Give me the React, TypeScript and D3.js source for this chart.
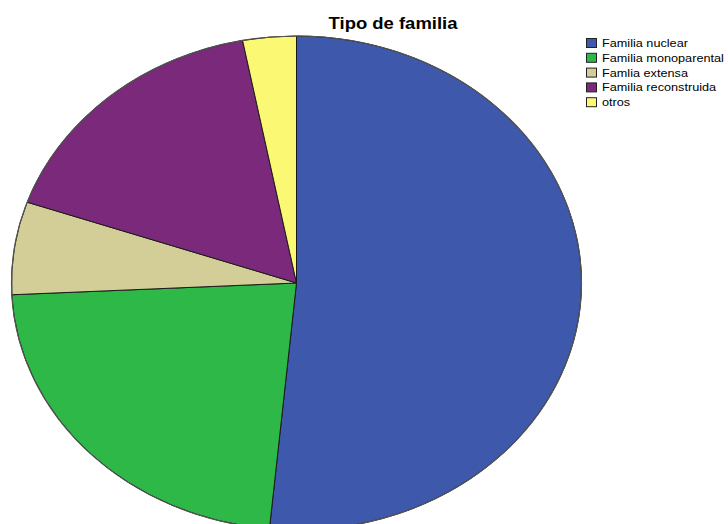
import React from "react";
import * as d3 from "d3";

const categories = ["Familia nuclear", "Familia monoparental", "Famlia extensa", "Familia reconstruida", "otros"];
const counts = [34, 15, 4, 11, 2];
const colors = ["#3E58AC", "#2EB848", "#D3CE97", "#7B2A7B", "#FBF873"];
const title = "Tipo de familia";

export default function App() {
  const W = 728, H = 524;
  const cx = 296.5, cy = 283, rx = 285, ry = 247;
  const sx = rx / ry;
  const pie = d3.pie<number>().sort(null).startAngle(0).endAngle(2 * Math.PI);
  const arcs = pie(counts);
  const arc = d3.arc<d3.PieArcDatum<number>>().innerRadius(0).outerRadius(ry);
  const stretch = 1.154;
  return (
    <svg width={W} height={H} style={{ position: "absolute", left: 0, top: 0, background: "#fff" }}>
      <g transform={`translate(${cx},${cy}) scale(${sx},1)`}>
        {arcs.map((a, i) => (
          <path key={i} d={arc(a) || ""} fill={colors[i]} stroke="#1a1a1a" strokeWidth={1} vectorEffect="non-scaling-stroke" />
        ))}
        <ellipse cx={0} cy={0} rx={ry} ry={ry} fill="none" stroke="#555" strokeWidth={1.2} vectorEffect="non-scaling-stroke" />
      </g>
      <text transform={`translate(393,29) scale(${stretch},1)`} textAnchor="middle" fontFamily="Liberation Sans, Arial, sans-serif" fontWeight="bold" fontSize={16} fill="#000">{title}</text>
      {categories.map((c, i) => {
        const y = 38 + i * 14.8;
        return (
          <g key={c}>
            <rect x={586.5} y={y + 0.5} width={10} height={9} fill={colors[i]} stroke="#222" strokeWidth={1} />
            <text transform={`translate(602,${y + 9}) scale(${stretch},1)`} fontFamily="Liberation Sans, Arial, sans-serif" fontSize={11} fill="#000">{c}</text>
          </g>
        );
      })}
    </svg>
  );
}
